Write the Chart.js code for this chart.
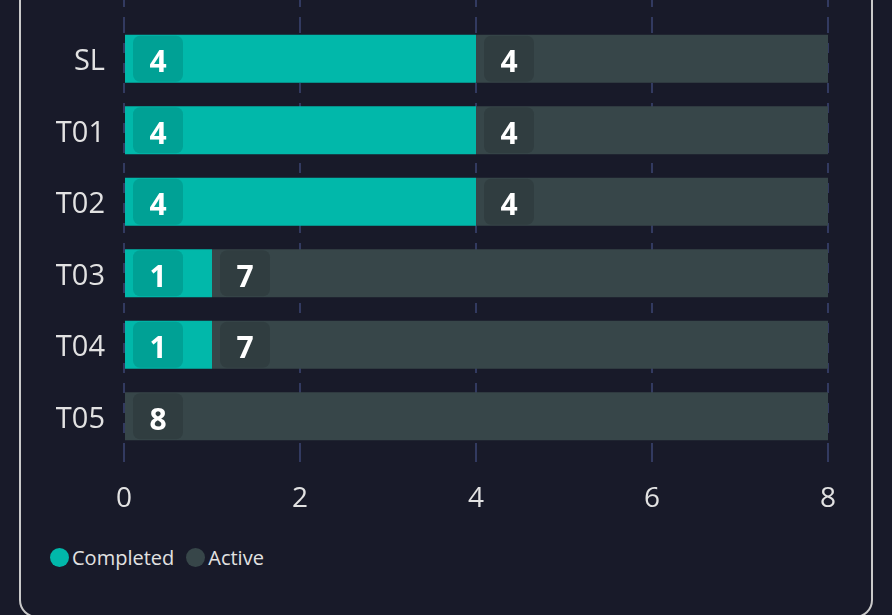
<!DOCTYPE html>
<html>
<head>
<meta charset="utf-8">
<script src="https://cdn.jsdelivr.net/npm/chart.js@4.4.1/dist/chart.umd.min.js"></script>
<style>
  html,body{margin:0;padding:0;background:#181a29;overflow:hidden;width:892px;height:615px;font-family:"Open Sans",sans-serif}
  .card{position:absolute;left:19px;top:-40px;width:854px;height:658px;box-sizing:border-box;border:2px solid #c9c9c9;border-radius:18px}
  .wrap{position:absolute;left:0;top:0;width:892px;height:540px}
  #legend{position:absolute;left:50px;top:544px;display:flex;align-items:center;color:#e2e2e2;font-size:20px}
  #legend .item{display:flex;align-items:center;margin-right:12px}
  #legend .dot{width:19px;height:19px;border-radius:50%;margin-right:3px}
</style>
</head>
<body>
<div class="card"></div>
<div class="wrap"><canvas id="chart"></canvas></div>
<div id="legend"></div>
<script>
// Datos del gráfico
const categorias = ['SL','T01','T02','T03','T04','T05'];
const completados = [4,4,4,1,1,0];
const activos     = [4,4,4,7,7,8];
const seriesNombres = ['Completed','Active'];
const seriesColores = ['#01b8aa','#374649'];

const GRID = '#323a60';

// Etiquetas dentro de cada segmento, con caja oscura redondeada
const labelBoxes = {
  id:'labelBoxes',
  afterDatasetsDraw(chart){
    const ctx = chart.ctx;
    chart.data.datasets.forEach((ds,di)=>{
      const meta = chart.getDatasetMeta(di);
      meta.data.forEach((el,i)=>{
        const v = ds.data[i];
        if(!v) return;
        const x0 = Math.min(el.base, el.x) + 8;
        const top = el.y - el.height/2 + 1;
        ctx.save();
        ctx.fillStyle = 'rgba(0,0,0,0.12)';
        ctx.beginPath();
        ctx.roundRect(x0, top, 50, el.height - 2, 7);
        ctx.fill();
        ctx.fillStyle = '#ffffff';
        ctx.font = 'bold 30px "Open Sans"';
        ctx.textAlign = 'center';
        ctx.textBaseline = 'middle';
        ctx.fillText(String(v), x0 + 25, el.y + 5);
        ctx.restore();
      });
    });
  }
};

const chart = new Chart(document.getElementById('chart'), {
  type:'bar',
  data:{
    labels: categorias,
    datasets:[
      { label:seriesNombres[0], data:completados, backgroundColor:seriesColores[0] },
      { label:seriesNombres[1], data:activos,     backgroundColor:seriesColores[1] }
    ]
  },
  options:{
    indexAxis:'y',
    responsive:true,
    maintainAspectRatio:false,
    animation:false,
    layout:{ padding:{ left:0, right:64, top:0, bottom:28 } },
    datasets:{ bar:{ categoryPercentage:1, barPercentage:0.672, borderWidth:0 } },
    plugins:{ legend:{ display:false }, tooltip:{ enabled:false } },
    scales:{
      x:{
        stacked:true, min:0, max:8,
        ticks:{ stepSize:2, color:'#e2e2e2', font:{ family:'"Open Sans"', size:28 }, padding:12 },
        grid:{ color:GRID, lineWidth:2, tickLength:18, tickColor:GRID, tickWidth:2, tickBorderDash:[10,10] },
        border:{ display:false, dash:[10,10] },
        afterFit: s => { s.height = 60; }
      },
      x2:{
        position:'top', min:0, max:8,
        ticks:{ stepSize:2, display:false },
        grid:{ drawOnChartArea:false, color:GRID, lineWidth:2, tickLength:23, tickColor:GRID, tickWidth:2, tickBorderDash:[10,10], tickBorderDashOffset:3 },
        border:{ display:false },
        afterFit: s => { s.height = 23; }
      },
      y:{
        stacked:true,
        ticks:{ color:'#e2e2e2', font:{ family:'"Open Sans"', size:29, lineHeight:0.8 }, padding:0, labelOffset:3 },
        grid:{ display:false, drawTicks:true, tickLength:19 },
        border:{ display:false },
        afterFit: s => { s.width = 124; }
      }
    }
  },
  plugins:[labelBoxes]
});

// Leyenda HTML a partir de los datasets
document.getElementById('legend').innerHTML = chart.data.datasets.map(d=>
  `<span class="item"><span class="dot" style="background:${d.backgroundColor}"></span>${d.label}</span>`
).join('');
</script>
</body>
</html>
